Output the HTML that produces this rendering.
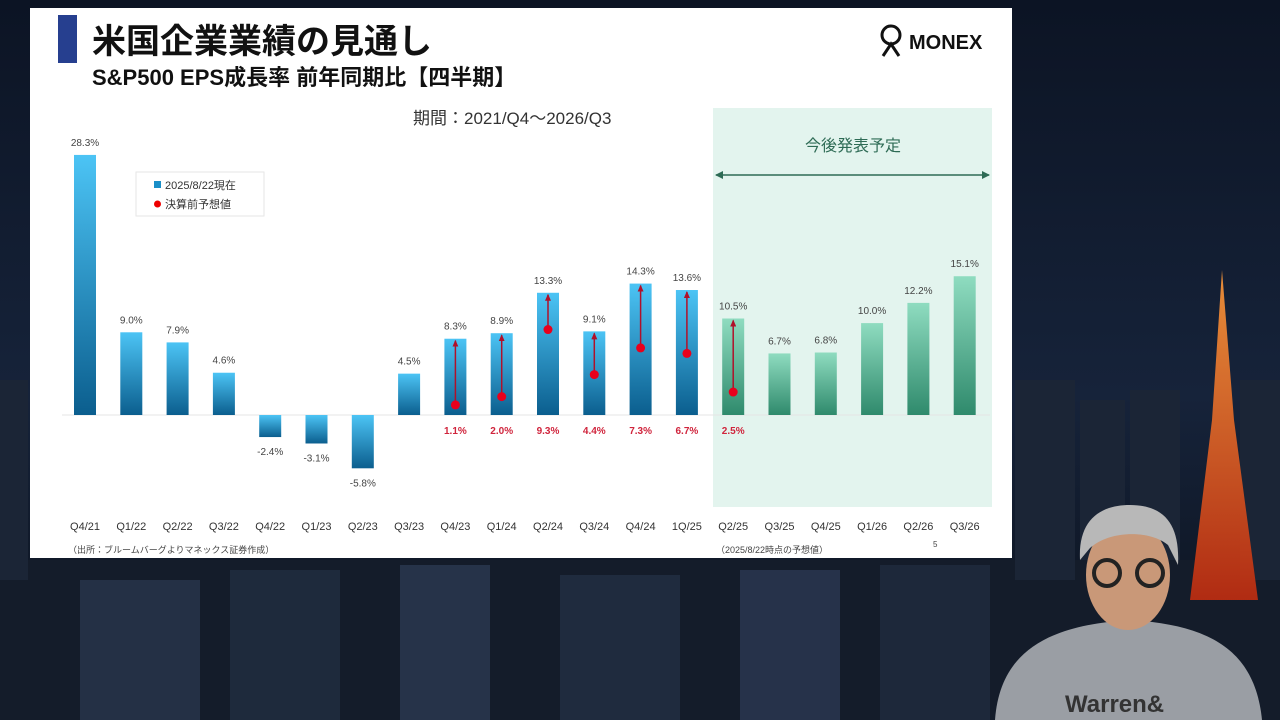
<!DOCTYPE html>
<html><head><meta charset="utf-8"><style>
html,body{margin:0;padding:0;width:1280px;height:720px;overflow:hidden;background:#0b1322;}
svg text{font-family:"Liberation Sans","Noto Sans CJK JP",sans-serif;}
</style></head><body>
<svg id="c" width="1280" height="720" viewBox="0 0 1280 720" xmlns="http://www.w3.org/2000/svg">
<defs>
<linearGradient id="sky" x1="0" y1="0" x2="0" y2="1"><stop offset="0" stop-color="#0c1424"/><stop offset="0.55" stop-color="#16233a"/><stop offset="1" stop-color="#0a0f18"/></linearGradient>
<linearGradient id="gb" x1="0" y1="0" x2="0" y2="1"><stop offset="0" stop-color="#4cc4f5"/><stop offset="1" stop-color="#0b5e8e"/></linearGradient>
<linearGradient id="gg" x1="0" y1="0" x2="0" y2="1"><stop offset="0" stop-color="#8fdcc0"/><stop offset="1" stop-color="#2f8a6c"/></linearGradient>
<linearGradient id="tower" x1="0" y1="0" x2="0" y2="1"><stop offset="0" stop-color="#ff9a3a"/><stop offset="1" stop-color="#c22d10"/></linearGradient>
<marker id="ah" markerWidth="7" markerHeight="6" refX="6" refY="3" orient="auto" markerUnits="userSpaceOnUse"><path d="M0,0 L7,3 L0,6 Z" fill="#b0102a"/></marker>
<marker id="ga" markerWidth="8" markerHeight="8" refX="7" refY="4" orient="auto-start-reverse" markerUnits="userSpaceOnUse"><path d="M0,0 L8,4 L0,8 Z" fill="#2e6b55"/></marker>
</defs>
<rect width="1280" height="720" fill="url(#sky)"/>
<g fill="#1b2536">
<rect x="0" y="560" width="1280" height="160" fill="#141c2a"/>
<rect x="1015" y="380" width="60" height="200"/><rect x="1080" y="400" width="45" height="160"/><rect x="1130" y="390" width="50" height="170"/><rect x="1240" y="380" width="40" height="200"/>
<rect x="0" y="380" width="28" height="200"/>
<rect x="80" y="580" width="120" height="140" fill="#243045"/><rect x="230" y="570" width="110" height="150" fill="#1e2a3c"/><rect x="400" y="565" width="90" height="155" fill="#263349"/><rect x="560" y="575" width="120" height="145" fill="#1f2b3e"/><rect x="740" y="570" width="100" height="150" fill="#26324a"/><rect x="880" y="565" width="110" height="155" fill="#1d283a"/>
</g>
<g><polygon points="1222,270 1212,420 1190,600 1258,600 1234,420" fill="url(#tower)" opacity="0.9"/></g>
<g>
<path d="M995,720 C1000,650 1050,625 1130,620 C1210,625 1255,650 1262,720 Z" fill="#9a9ea4"/>
<ellipse cx="1128" cy="575" rx="42" ry="55" fill="#c99878"/>
<path d="M1080,560 C1078,520 1100,505 1130,505 C1165,505 1180,525 1178,565 L1168,545 C1150,530 1110,530 1090,548 Z" fill="#b8b8b8"/>
<circle cx="1107" cy="573" r="13" fill="none" stroke="#222" stroke-width="4"/><circle cx="1150" cy="573" r="13" fill="none" stroke="#222" stroke-width="4"/>
<text x="1065" y="712" font-size="24" font-weight="bold" fill="#333">Warren&amp;</text>
</g>
<rect x="30" y="8" width="982" height="550" fill="#ffffff"/>
<rect x="58" y="15" width="19" height="48" fill="#263f8f"/>
<text x="92" y="53" font-size="34" font-weight="bold" fill="#111">米国企業業績の見通し</text>
<text x="92" y="85" font-size="22" font-weight="bold" fill="#111">S&amp;P500 EPS成長率 前年同期比【四半期】</text>
<g><circle cx="891" cy="35" r="9" fill="none" stroke="#111" stroke-width="3"/><path d="M883,56 L891,44 L899,56" fill="none" stroke="#111" stroke-width="3"/><text x="909" y="49" font-size="20" font-weight="bold" fill="#111">MONEX</text></g>
<text x="413" y="124" font-size="17" fill="#333">期間：2021/Q4～2026/Q3</text>
<rect x="713" y="108" width="279" height="399" fill="#e3f4ee"/>
<text x="853" y="151" font-size="16" text-anchor="middle" fill="#2e6b55">今後発表予定</text>
<line x1="716" y1="175" x2="989" y2="175" stroke="#2e6b55" stroke-width="1.5" marker-start="url(#ga)" marker-end="url(#ga)"/>
<g><rect x="136" y="172" width="128" height="44" fill="#fff" stroke="#e6e6e6"/><rect x="154" y="181" width="7" height="7" fill="#1a8fc8"/><text x="165" y="189" font-size="11" fill="#333">2025/8/22現在</text><circle cx="157.5" cy="204" r="3.5" fill="#e00"/><text x="165" y="208" font-size="11" fill="#333">決算前予想値</text></g>
<g id="chart"></g>
<text x="68" y="553" font-size="9" fill="#444">（出所：ブルームバーグよりマネックス証券作成）</text>
<text x="716" y="553" font-size="9" fill="#444">（2025/8/22時点の予想値）</text>
<text x="933" y="547" font-size="8" fill="#444">5</text>
</svg>
<script>
const categories=["Q4/21","Q1/22","Q2/22","Q3/22","Q4/22","Q1/23","Q2/23","Q3/23","Q4/23","Q1/24","Q2/24","Q3/24","Q4/24","1Q/25","Q2/25","Q3/25","Q4/25","Q1/26","Q2/26","Q3/26"];
const actualValues=[28.3,9.0,7.9,4.6,-2.4,-3.1,-5.8,4.5,8.3,8.9,13.3,9.1,14.3,13.6,10.5,6.7,6.8,10.0,12.2,15.1];
const preEstimates=[null,null,null,null,null,null,null,null,1.1,2.0,9.3,4.4,7.3,6.7,2.5,null,null,null,null,null];
const forecastStart=14;
const NS="http://www.w3.org/2000/svg";
const g=document.getElementById('chart');
const y0=415,ppu=9.19;
function y(v){return y0-v*ppu;}
function x(i){return 85+i*46.3;}
function mk(t,a){const e=document.createElementNS(NS,t);for(const k in a)e.setAttribute(k,a[k]);g.appendChild(e);return e;}
const base=mk('line',{x1:62,x2:990,y1:y0,y2:y0,stroke:'#e4e4e4','stroke-width':1});


categories.forEach((c,i)=>{
  const v=actualValues[i],cx=x(i);
  const r=mk('rect',{x:cx-11,y:Math.min(y(v),y0),width:22,height:Math.abs(y(v)-y0),fill:i>=forecastStart?'url(#gg)':'url(#gb)'});
  
  
  const lt=mk('text',{x:cx,y:v>=0?y(v)-9:y(v)+18,'font-size':10,'text-anchor':'middle',fill:'#444'});
  lt.textContent=v.toFixed(1)+'%';
  
  
  const ct=mk('text',{x:cx,y:530,'font-size':11,'text-anchor':'middle',fill:'#333'});
  ct.textContent=c;
  
  
  const p=preEstimates[i];
  if(p!==null){
    const ln=mk('line',{x1:cx,x2:cx,y1:y(p),y2:y(v)+2,stroke:'#b0102a','stroke-width':1.5,'marker-end':'url(#ah)'});
    
    
    const d=mk('circle',{cx:cx,cy:y(p),r:4.5,fill:'#e8001c'});
    
    
    const pt=mk('text',{x:cx,y:434,'font-size':10,'font-weight':'bold','text-anchor':'middle',fill:'#d0243c'});
    pt.textContent=p.toFixed(1)+'%';
    
    
  }
});
</script>
</body></html>
